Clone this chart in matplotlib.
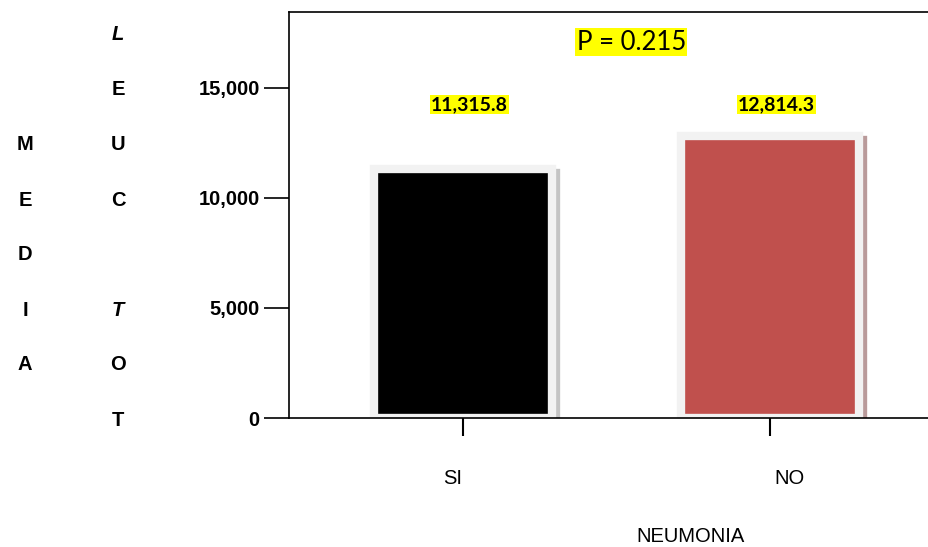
import matplotlib
matplotlib.use("Agg")
from matplotlib import pyplot as plt
from matplotlib.transforms import ScaledTranslation

categorias = ["SI", "NO"]
medias = [11315.8, 12814.3]
colores = ["#000000", "#c0504d"]
sombras = ["#c4c4c4", "#b99a9a"]
yticks = [0, 5000, 10000, 15000]
p_texto = "P = 0.215"

W, H = 929, 547
fig = plt.figure(figsize=(W / 100, H / 100), dpi=100)
ax = fig.add_axes([289 / W, 1 - 418 / H, 1 - 289 / W, (418 - 12) / H])

x = list(range(len(categorias)))
# sombra desplazada abajo a la derecha
sombra = ax.transData + ScaledTranslation(4 / 100, -4 / 100, fig.dpi_scale_trans)
ax.bar(x, medias, width=0.58, color=sombras, edgecolor=sombras, linewidth=6,
       transform=sombra, zorder=1)
ax.bar(x, medias, width=0.58, color=colores, edgecolor="#f2f2f2", linewidth=6, zorder=2)

for xi, v in zip(x, medias):
    ax.text(xi + 0.02, 14230, f"{v:,.1f}", ha="center", va="center",
            fontsize=14, fontweight="bold", family="Lato",
            bbox=dict(boxstyle="square,pad=0.05", fc="yellow", ec="none"))

ax.text(0.535, (418 - 42) / 406, p_texto, transform=ax.transAxes, ha="center",
        va="center", fontsize=18.5, family="Lato",
        bbox=dict(boxstyle="square,pad=0.05", fc="yellow", ec="none"))

ax.set_xlim(-0.567, 1.518)
ax.set_ylim(0, 18450)
ax.set_yticks(yticks)
ax.set_yticklabels([f"{t:,}" for t in yticks], fontsize=14.5, fontweight="bold",
                   family="Liberation Sans")
ax.tick_params(axis="y", length=18, width=1.2, pad=3)
ax.set_xticks(x)
ax.set_xticklabels(categorias, fontsize=14.5, family="Liberation Sans")
ax.tick_params(axis="x", length=13, width=1.5, pad=24)
# NO va algo a la derecha de su marca
for lbl, dx in zip(ax.get_xticklabels(), [-10, 20]):
    lbl.set_transform(lbl.get_transform() + ScaledTranslation(dx / 100, 0, fig.dpi_scale_trans))
ax.set_xlabel("NEUMONIA", fontsize=14.5, family="Liberation Sans")
ax.xaxis.set_label_coords((690 - 289) / (W - 289), -(527 - 418) / 406)

for s in ax.spines.values():
    s.set_linewidth(1.2)
ax.spines["right"].set_visible(False)

# etiqueta vertical del eje Y, letra por letra
for i, ch in enumerate("MEDIA"):
    fig.text(25 / W, 1 - (145 + 55 * i) / H, ch, ha="center", va="center",
             fontsize=14.5, fontweight="bold", family="Liberation Sans")
for i, ch in enumerate("LEUC TOT"):
    estilo = "italic" if i in (0, 5) else "normal"
    fig.text(118 / W, 1 - (35 + 55 * i) / H, ch, ha="center", va="center",
             fontsize=14.5, fontweight="bold", style=estilo, family="Liberation Sans")

fig.savefig("out.png", dpi=100)
